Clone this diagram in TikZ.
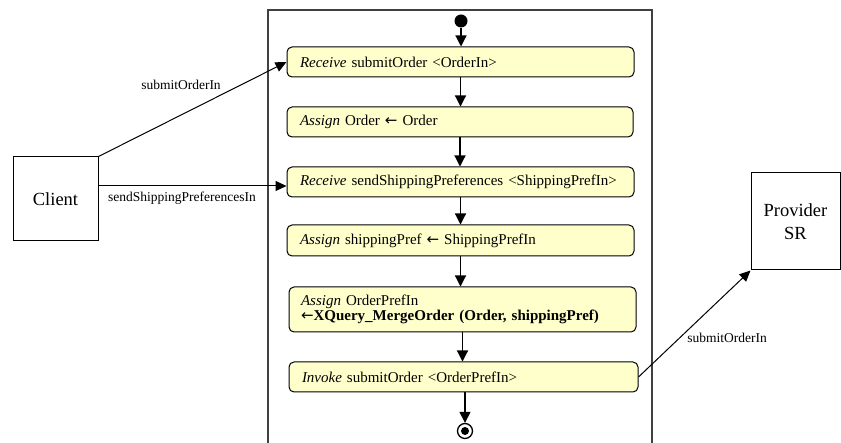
\documentclass[tikz,border=0pt]{standalone}
\usepackage{fontspec}
\setmainfont{Liberation Serif}
\newfontfamily\symfont{DejaVu Sans}
\newcommand\larr{{\symfont\mdseries ←}}
\usetikzlibrary{arrows.meta,calc}
\definecolor{actfill}{HTML}{FFFFCC}
\definecolor{poolline}{HTML}{404040}

\begin{document}
\begin{tikzpicture}[x=1pt,y=-1pt,
  act/.style={draw=black, line width=1pt, fill=actfill, rounded corners=5pt,
    font=\fontsize{15}{15}\selectfont, align=left, inner xsep=13pt, inner ysep=0pt,
    minimum height=30pt},
  party/.style={draw=black, line width=1pt, fill=white, align=center,
    font=\fontsize{18.5}{23}\selectfont, inner sep=0pt},
  flow/.style={-{Triangle[length=11pt,width=11pt]}, line width=1.2pt},
  msg/.style={-{Triangle[length=11pt,width=10pt]}, line width=1pt},
  lbl/.style={font=\fontsize{13.5}{15}\selectfont, inner sep=0pt},
  pool/.style={draw=poolline, line width=1.1pt}]

\useasboundingbox (0,0) rectangle (841,443);

% process lane (open at the bottom)
\draw[pool] (268,443) -- (268,10) -- (652,10) -- (652,443);

% activities
\node[act, text width=321pt] (b1) at (460.5,62)
  {\textit{Receive} submitOrder <OrderIn>};
\node[act, text width=320pt] (b2) at (460,122)
  {\textit{Assign} Order \larr\ Order};
\node[act, text width=321pt] (b3) at (460.5,182)
  {\textit{Receive} sendShippingPreferences <ShippingPrefIn>};
\node[act, text width=321pt, minimum height=31pt] (b4) at (460.5,240.5)
  {\textit{Assign} shippingPref \larr\ ShippingPrefIn};
\node[act, text width=323pt, inner xsep=12pt, minimum height=45pt] (b5) at (462.5,309.5)
  {\textit{Assign} OrderPrefIn\\\larr\textbf{XQuery\_MergeOrder (Order, shippingPref)}};
\node[act, text width=323pt, minimum height=30pt] (b6) at (463.5,377)
  {\textit{Invoke} submitOrder <OrderPrefIn>};

% start and end
\node[circle, fill=black, inner sep=0pt, minimum size=13pt] (start) at (461,21) {};
\node[circle, draw=black, line width=1.3pt, fill=white, inner sep=0pt, minimum size=15pt] (end) at (465,431) {};
\fill (end.center) circle (4pt);

% control flow
\draw[flow] (start) -- (start |- b1.north);
\draw[flow] (b1.south) -- (b1.south |- b2.north);
\draw[flow] (b2.south) -- (b2.south |- b3.north);
\draw[flow] (b3.south) -- (b3.south |- b4.north);
\draw[flow] (b4.south) -- (b4.south |- b5.north);
\draw[flow] (b5.south) -- (b5.south |- b6.north);
\draw[flow] (b6.south -| end) -- (end.north);

% partners
\node[party, minimum width=85pt, minimum height=84pt] (client) at (55.5,199) {Client};
\node[party, minimum width=89pt, minimum height=97pt] (provider) at (795.5,221.5) {Provider\\SR};

% message flows
\coordinate (in3) at ([yshift=-4pt]b3.west);
\draw[msg] (client.north east) -- (b1.west);
\draw[msg] (client.east |- in3) -- (in3);
\draw[msg] (b6.east) -- (provider.south west);

\node[lbl] (m1) at (181,85) {submitOrderIn};
\node[lbl, anchor=west] (m2) at (108,198) {sendShippingPreferencesIn};
\node[lbl] (m3) at (727,338) {submitOrderIn};
\end{tikzpicture}
\end{document}
